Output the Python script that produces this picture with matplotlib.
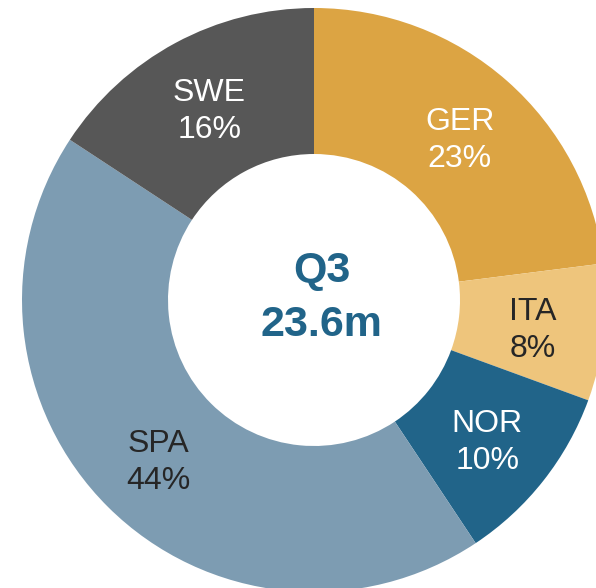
import matplotlib
matplotlib.use('Agg')
import matplotlib.pyplot as plt

# Q3 sales by country, millions
countries = ['GER', 'ITA', 'NOR', 'SPA', 'SWE']
values = [5.43, 1.79, 2.38, 10.29, 3.72]
colors = ['#DCA443', '#EEC57C', '#216489', '#7D9CB2', '#575757']
text_colors = ['white', '#262626', 'white', '#262626', 'white']
center_title = 'Q3'
center_total = '23.6m'

plt.rcParams['font.family'] = ['Liberation Sans', 'DejaVu Sans']

fig = plt.figure(figsize=(5.96, 5.88), dpi=100)
ax = fig.add_axes([0, 0, 1, 1])

total = sum(values)
labels = [f'{c}\n{v / total * 100:.0f}%' for c, v in zip(countries, values)]

wedges, texts = ax.pie(values, colors=colors, startangle=90, counterclock=False,
                       labels=labels, labeldistance=0.755,
                       wedgeprops=dict(width=0.5, linewidth=0),
                       textprops=dict(fontsize=23, ha='center', va='center',
                                      linespacing=1.3))
for t, c in zip(texts, text_colors):
    t.set_color(c)
    t.set_horizontalalignment('center')
    # nudge labels down a little
    x, y = t.get_position()
    t.set_position((x, y - 0.02))

ax.text(0.027, 0.1, center_title, ha='center', va='center', fontsize=31,
        fontweight='bold', color='#216489')
ax.text(0.027, -0.085, center_total, ha='center', va='center', fontsize=31,
        fontweight='bold', color='#216489')

# pie is cropped on the right and bottom edges like the original
r_px = 292
cx, cy = 314, 300
ax.set_xlim(-cx / r_px, (596 - cx) / r_px)
ax.set_ylim(-(588 - cy) / r_px, cy / r_px)
ax.set_aspect('auto')
ax.axis('off')

fig.savefig('out.png', dpi=100)
